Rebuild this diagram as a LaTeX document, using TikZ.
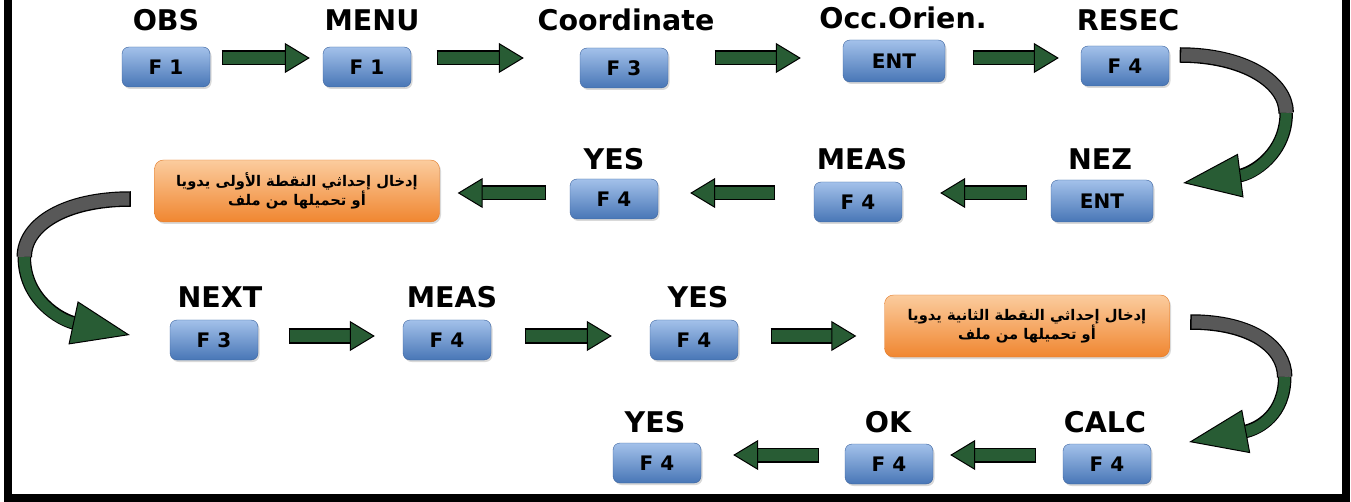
\documentclass[tikz,border=0pt]{standalone}
\usepackage{fontspec}
\setmainfont{DejaVu Sans}
\newfontfamily\arabicfont[Script=Arabic]{DejaVu Sans}
\TeXXeTstate=1
\usepackage{tikz}
\usetikzlibrary{arrows.meta,calc,shadows}

\definecolor{KeyTop}{RGB}{163,193,234}
\definecolor{KeyBot}{RGB}{72,118,182}
\definecolor{KeyLine}{RGB}{58,98,158}
\definecolor{NoteTop}{RGB}{251,204,158}
\definecolor{NoteBot}{RGB}{240,134,48}
\definecolor{NoteLine}{RGB}{226,122,40}
\definecolor{ArrGreen}{RGB}{40,92,52}
\definecolor{ArrGray}{RGB}{88,88,88}

\newcommand{\lblfont}{\bfseries\fontsize{28.5}{32}\selectfont}
\newcommand{\keyfont}{\bfseries\fontsize{20}{22}\selectfont}
\newcommand{\notefont}{\arabicfont\bfseries\fontsize{14.7}{19.5}\selectfont}

\begin{document}
\begin{tikzpicture}[x=1pt,y=-1pt]
			\tikzstyle{Key}		= [rounded corners=7pt, draw=KeyLine, top color=KeyTop, bottom color=KeyBot, minimum width=88pt, minimum height=40pt, inner sep=0pt, font=\keyfont, drop shadow={opacity=0.3, shadow xshift=1.5pt, shadow yshift=-2pt}]
			\tikzstyle{WideKey}	= [Key, minimum width=102pt, minimum height=42pt]
			\tikzstyle{Title}	= [anchor=base, inner sep=0pt, font=\lblfont]
			\tikzstyle{Note}	= [rounded corners=9pt, draw=NoteLine, top color=NoteTop, bottom color=NoteBot, minimum width=285pt, minimum height=62pt, align=center, font=\notefont, drop shadow={opacity=0.3, shadow xshift=1.5pt, shadow yshift=-2pt}]
			\tikzstyle{Blk}		= [line width=12pt, ArrGreen, -{Triangle[length=25pt,width=30pt,fill=ArrGreen,color=black,line width=1pt]}, preaction={draw=black, line width=15pt, arrows=-, shorten >=23pt, shorten <=-1.5pt}]
			\tikzstyle{BendGray}	= [line width=13pt, ArrGray, preaction={draw=black, line width=15.5pt, shorten <=-1.5pt}]
			\tikzstyle{BendGreen}	= [line width=11pt, ArrGreen, -{Triangle[length=58pt,width=44pt,fill=ArrGreen,color=black,line width=1pt]}, preaction={draw=black, line width=13.5pt, arrows=-, shorten >=55pt}]

			\useasboundingbox (0,0) rectangle (1351,502);
			\draw [line width=8pt] (8,0) -- (8,498) -- (1346,498) -- (1346,0);

			% first row
			\node (k1) at (166,67) [Key] {F 1};
			\node (k2) at (367,67) [Key] {F 1};
			\node (k3) at (624,68) [Key] {F 3};
			\node (k4) at (894,61) [WideKey] {ENT};
			\node (k5) at (1125,66) [Key] {F 4};
			\node (t1) at (166,31) [Title] {OBS};
			\node (t2) at (372,31) [Title] {MENU};
			\node (t3) at (626,31) [Title] {Coordinate};
			\node (t4) at (903,29) [Title] {Occ.Orien.};
			\node (t5) at (1128,31) [Title] {RESEC};

			% second row
			\node (k6) at (1102,201) [WideKey] {ENT};
			\node (k7) at (858,202) [Key] {F 4};
			\node (k8) at (614,199) [Key] {F 4};
			\node (n1) at (297,191) [Note] {\beginR إدخال إحداثي النقطة الأولى يدويا\endR\\ \beginR أو تحميلها من ملف\endR};
			\node (t6) at (1100,170) [Title] {NEZ};
			\node (t7) at (862,170) [Title] {MEAS};
			\node (t8) at (614,170) [Title] {YES};

			% third row
			\node (k9) at (214,340) [Key] {F 3};
			\node (k10) at (447,340) [Key] {F 4};
			\node (k11) at (694,340) [Key] {F 4};
			\node (n2) at (1027,326) [Note] {\beginR إدخال إحداثي النقطة الثانية يدويا\endR\\ \beginR أو تحميلها من ملف\endR};
			\node (t9) at (220,308) [Title] {NEXT};
			\node (t10) at (452,308) [Title] {MEAS};
			\node (t11) at (698,308) [Title] {YES};

			% fourth row
			\node (k12) at (1107,464) [Key] {F 4};
			\node (k13) at (889,464) [Key] {F 4};
			\node (k14) at (657,463) [Key] {F 4};
			\node (t12) at (1105,432) [Title] {CALC};
			\node (t13) at (888,432) [Title] {OK};
			\node (t14) at (655,432) [Title] {YES};

			\draw [Blk] ($(k1.east)+(13,-9)$) -- ($(k2.west)+(-13,-9)$);
			\draw [Blk] ($(k2.east)+(27,-9)$) -- ($(k3.west)+(-56,-10)$);
			\draw [Blk] ($(k3.east)+(48,-10)$) -- ($(k4.west)+(-42,-3)$);
			\draw [Blk] ($(k4.east)+(29,-3)$) -- ($(k5.west)+(-22,-8)$);

			\draw [BendGray] ($(k5.east)+(12,-11)$) .. controls +(63,0) and +(0,-31) .. ++(105,58) coordinate (m1);
			\draw [BendGreen] (m1) .. controls +(0,40) and +(70,-9) .. ($(k6.east)+(30,-18)$);

			\draw [Blk] ($(k6.west)+(-25,-8)$) -- ($(k7.east)+(38,-9)$);
			\draw [Blk] ($(k7.west)+(-40,-9)$) -- ($(k8.east)+(32,-6)$);
			\draw [Blk] ($(k8.west)+(-25,-6)$) -- ($(n1.east)+(18,2)$);

			\draw [BendGray] ($(n1.west)+(-25,8)$) .. controls +(-65,0) and +(0,-32) .. ++(-105,58) coordinate (m2);
			\draw [BendGreen] (m2) .. controls +(0,42) and +(-70,-15) .. ($(k9.west)+(-40,-5)$);

			\draw [Blk] ($(k9.east)+(32,-4)$) -- ($(k10.west)+(-28,-4)$);
			\draw [Blk] ($(k10.east)+(35,-4)$) -- ($(k11.west)+(-38,-4)$);
			\draw [Blk] ($(k11.east)+(34,-4)$) -- ($(n2.west)+(-28,10)$);

			\draw [BendGray] ($(n2.east)+(22,-4)$) .. controls +(60,0) and +(0,-30) .. ++(93,55) coordinate (m3);
			\draw [BendGreen] (m3) .. controls +(0,37) and +(70,-13) .. ($(k12.east)+(38,-22)$);

			\draw [Blk] ($(k12.west)+(-28,-9)$) -- ($(k13.east)+(17,-9)$);
			\draw [Blk] ($(k13.west)+(-27,-9)$) -- ($(k14.east)+(32,-8)$);
		\end{tikzpicture}
\end{document}
